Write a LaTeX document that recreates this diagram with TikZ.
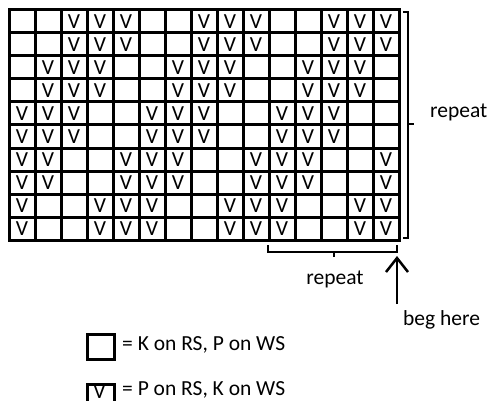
\documentclass[tikz,border=0pt]{standalone}
\usepackage{fontspec}
\setmainfont{Carlito}
\usetikzlibrary{arrows.meta}
\begin{document}
\begin{tikzpicture}[x=1pt,y=-1pt,
  gridline/.style={line width=3pt},
  purl/.style={inner sep=0pt, font=\fontsize{21.5}{25}\selectfont},
  lbl/.style={inner sep=0pt, font=\fontsize{21.5}{25}\selectfont},
  bracket/.style={line width=2.5pt},
  keybox/.style={line width=3pt, minimum width=27pt, minimum height=25pt, inner sep=0pt, draw, font=\fontsize{21.5}{25}\selectfont},
  arrowline/.style={line width=2.5pt, -{Straight Barb[length=14pt,width=22pt,line width=2.5pt]}}]
\useasboundingbox (0,0) rectangle (487,401);

% chart: 15 stitches by 10 rows
\foreach \i in {0,...,15} \draw[gridline] (9+26*\i,10) -- (9+26*\i,240);
\foreach \j in {0,...,10} \draw[gridline] (9,10+23*\j) -- (399,10+23*\j);
\draw[gridline, line cap=rect] (9,10) rectangle (399,240);

% purl stitches
\foreach \r/\cols in {
  1/{3,4,5,8,9,10,13,14,15},
  2/{3,4,5,8,9,10,13,14,15},
  3/{2,3,4,7,8,9,12,13,14},
  4/{2,3,4,7,8,9,12,13,14},
  5/{1,2,3,6,7,8,11,12,13},
  6/{1,2,3,6,7,8,11,12,13},
  7/{1,2,5,6,7,10,11,12,15},
  8/{1,2,5,6,7,10,11,12,15},
  9/{1,4,5,6,9,10,11,14,15},
  10/{1,4,5,6,9,10,11,14,15}}
  \foreach \c in \cols
    \node[purl] (v-\r-\c) at (9+26*\c-13, 10+23*\r-11.5) {V};

% row repeat bracket
\draw[bracket] (403,12) -- (408,12) -- (408,238) -- (403,238);
\draw[bracket] (408,124) -- (414,124);
\node[lbl, anchor=west] (rowrep) at (430,112) {repeat};

% stitch repeat bracket
\draw[bracket] (268,245) -- (268,252) -- (397,252) -- (397,245);
\draw[bracket] (334,252) -- (334,257);
\node[lbl] (strep) at (335,279) {repeat};

% starting point
\node[lbl, anchor=west] (beg) at (403,320) {beg here};
\coordinate (tip) at (397,256);
\coordinate (tail) at (397,304);
\draw[arrowline] (tail) -- (tip);

% key
\node[keybox, anchor=north west] (knit) at (86,333) {};
\node[lbl, anchor=west] (knittxt) at (122,345) {= K on RS, P on WS};
\node[keybox, anchor=north west] (purlkey) at (86,383) {};
\node[purl] (purlsym) at (99.5,392) {V};
\node[lbl, anchor=west] (purltxt) at (122,390) {= P on RS, K on WS};
\end{tikzpicture}
\end{document}
